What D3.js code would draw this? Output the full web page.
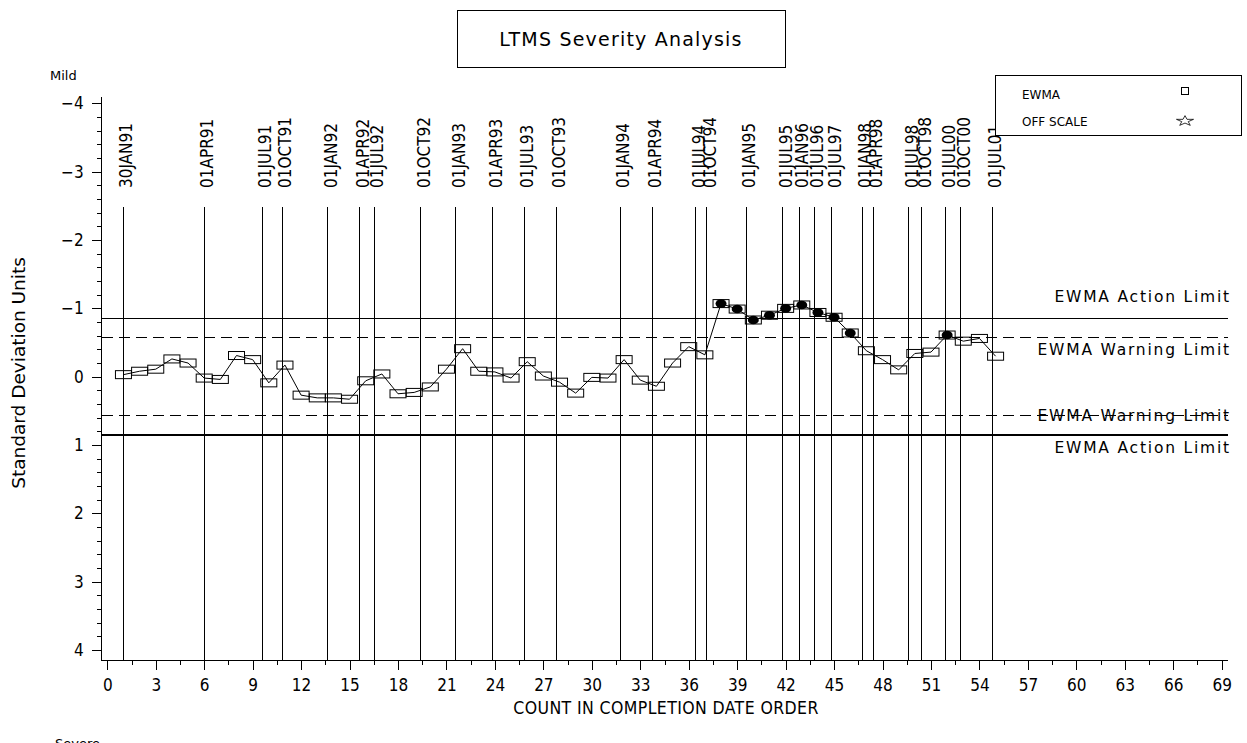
<!DOCTYPE html>
<html>
<head>
<meta charset="utf-8">
<script src="https://cdn.jsdelivr.net/npm/d3@7"></script>
<style>
  body { margin: 0; background: #fff; }
  svg { display: block; }
  .narrow { font-family: 'Liberation Sans Narrow', 'DejaVu Sans Condensed', sans-serif; }
  .wide { font-family: 'DejaVu Sans', sans-serif; }
</style>
</head>
<body>
<script>
// EWMA of severity, in standard deviation units, by test count (1..55)
const ewma = [
  -0.03, -0.08, -0.11, -0.26, -0.20, 0.02, 0.04, -0.31, -0.25, 0.09,
  -0.17, 0.27, 0.31, 0.31, 0.33, 0.06, -0.04, 0.25, 0.23, 0.15,
  -0.11, -0.41, -0.08, -0.07, 0.02, -0.22, -0.01, 0.08, 0.24, 0.01,
  0.02, -0.25, 0.05, 0.14, -0.20, -0.44, -0.32, -1.07, -0.99, -0.83,
  -0.90, -1.00, -1.05, -0.94, -0.87, -0.64, -0.38, -0.25, -0.10, -0.34,
  -0.36, -0.61, -0.52, -0.56, -0.30
];

// calendar markers, placed on the count axis
const dateLabels = [
  "30JAN91", "01APR91", "01JUL91", "01OCT91", "01JAN92", "01APR92", "01JUL92",
  "01OCT92", "01JAN93", "01APR93", "01JUL93", "01OCT93", "01JAN94", "01APR94",
  "01JUL94", "01OCT94", "01JAN95", "01JUL95", "01JAN96", "01JUL96", "01JUL97",
  "01JAN98", "01APR98", "01JUL98", "01OCT98", "01JUL00", "01OCT00", "01JUL01"
];
const datePositions = [
  1, 6, 9.58, 10.82, 13.65, 15.63, 16.52, 19.4, 21.57, 23.86, 25.82, 27.8,
  31.77, 33.75, 36.45, 37.11, 39.55, 41.82, 42.83, 43.78, 44.85, 46.73, 47.41,
  49.62, 50.43, 51.91, 52.84, 54.8
];

const actionLimit = 0.854;
const warningLimit = 0.575;
const limits = [
  { v: -actionLimit, label: "EWMA Action Limit", dash: null, pos: "above" },
  { v: -warningLimit, label: "EWMA Warning Limit", dash: "11,6", pos: "below" },
  { v: warningLimit, label: "EWMA Warning Limit", dash: "11,6", pos: "on" },
  { v: actionLimit, label: "EWMA Action Limit", dash: null, pos: "below" }
];

const xTicks = d3.range(0, 70, 3);
const yTicks = d3.range(-4, 5, 1);

const width = 1247, height = 743;

const x = d3.scaleLinear().domain([0, 69]).range([107.3, 1221.7]);
const y = d3.scaleLinear().domain([-4, 4]).range([103.4, 650]);

const svg = d3.select('body').append('svg')
  .attr('width', width)
  .attr('height', height);

const xLeft = x(-0.35), xRight = x(69.4);
const yTop = y(-4.1), yBottom = 660;

// title box
svg.append('rect')
  .attr('x', 457.5).attr('y', 10.5).attr('width', 328).attr('height', 57)
  .attr('fill', 'none').attr('stroke', '#000');
svg.append('text')
  .attr('class', 'wide')
  .attr('x', 621).attr('y', 46)
  .attr('text-anchor', 'middle')
  .attr('font-size', 19)
  .attr('letter-spacing', 1.2)
  .text('LTMS Severity Analysis');

// date reference lines
const dates = svg.append('g');
dates.selectAll('line')
  .data(datePositions)
  .join('line')
  .attr('x1', d => x(d)).attr('x2', d => x(d))
  .attr('y1', 207).attr('y2', yBottom)
  .attr('stroke', '#000')
  .attr('shape-rendering', 'crispEdges');

dates.selectAll('text')
  .data(datePositions)
  .join('text')
  .attr('class', 'narrow')
  .attr('font-size', 17)
  .attr('transform', d => `translate(${x(d) + 9},188) rotate(-90)`)
  .text((d, i) => dateLabels[i]);

// limit lines
const lim = svg.append('g');
lim.selectAll('line')
  .data(limits)
  .join('line')
  .attr('x1', xLeft).attr('x2', xRight)
  .attr('y1', d => y(d.v)).attr('y2', d => y(d.v))
  .attr('stroke', '#000')
  .attr('stroke-width', d => d.dash ? 1 : 1.4)
  .attr('stroke-dasharray', d => d.dash)
  .attr('shape-rendering', 'crispEdges');

lim.selectAll('text')
  .data(limits)
  .join('text')
  .attr('class', 'wide')
  .attr('font-size', 15.5)
  .attr('letter-spacing', 1.8)
  .attr('text-anchor', 'end')
  .attr('x', 1231)
  .attr('y', d => d.pos === 'above' ? y(d.v) - 16 : d.pos === 'on' ? y(d.v) + 5 : y(d.v) + 18)
  .text(d => d.label);

// axes
const gx = svg.append('g')
  .attr('transform', `translate(0,${yBottom})`)
  .call(d3.axisBottom(x).tickValues(xTicks).tickSize(10).tickPadding(9));
gx.select('.domain').remove();
gx.selectAll('text').attr('class', 'narrow').attr('font-size', 17).attr('fill', '#000');

const gxMinor = svg.append('g')
  .attr('transform', `translate(0,${yBottom})`)
  .call(d3.axisBottom(x).tickValues(d3.range(1.5, 70, 3)).tickSize(5).tickFormat(''));
gxMinor.select('.domain').remove();

const gy = svg.append('g')
  .attr('transform', `translate(${xLeft},0)`)
  .call(d3.axisLeft(y).tickValues(yTicks).tickSize(10).tickPadding(8));
gy.select('.domain').remove();
gy.selectAll('text').attr('class', 'narrow').attr('font-size', 17).attr('fill', '#000');

const gyMinor = svg.append('g')
  .attr('transform', `translate(${xLeft},0)`)
  .call(d3.axisLeft(y).tickValues(d3.range(-4, 4.01, 0.2).filter(v => Math.abs(v - Math.round(v)) > 0.01)).tickSize(5).tickFormat(''));
gyMinor.select('.domain').remove();

svg.selectAll('.tick line').attr('shape-rendering', 'crispEdges');

svg.append('path')
  .attr('d', `M${xLeft},${yTop}V${yBottom}H${xRight}`)
  .attr('fill', 'none').attr('stroke', '#000')
  .attr('shape-rendering', 'crispEdges');

// axis titles
svg.append('text')
  .attr('class', 'wide')
  .attr('font-size', 18.5)
  .attr('text-anchor', 'middle')
  .attr('transform', `translate(25,373) rotate(-90)`)
  .text('Standard Deviation Units');

svg.append('text')
  .attr('class', 'narrow')
  .attr('font-size', 17.5)
  .attr('text-anchor', 'middle')
  .attr('x', 666).attr('y', 714)
  .attr('letter-spacing', 0.4)
  .text('COUNT IN COMPLETION DATE ORDER');

svg.append('text')
  .attr('class', 'wide')
  .attr('font-size', 13)
  .attr('x', 50).attr('y', 80)
  .text('Mild');

svg.append('text')
  .attr('class', 'wide')
  .attr('font-size', 13)
  .attr('x', 55).attr('y', 748)
  .text('Severe');

// EWMA series
const pts = ewma.map((v, i) => ({ n: i + 1, v }));

svg.append('path')
  .datum(pts)
  .attr('fill', 'none')
  .attr('stroke', '#000')
  .attr('stroke-width', 1)
  .attr('d', d3.line().x(d => x(d.n)).y(d => y(d.v)));

const marks = svg.append('g')
  .selectAll('g')
  .data(pts)
  .join('g')
  .attr('transform', d => `translate(${x(d.n)},${y(d.v)})`);

marks.append('rect')
  .attr('x', -8).attr('y', -4)
  .attr('width', 16).attr('height', 8)
  .attr('fill', 'none')
  .attr('stroke', '#000');

marks.filter(d => Math.abs(d.v) > warningLimit)
  .append('ellipse')
  .attr('rx', 5.5).attr('ry', 4.3)
  .attr('fill', '#000');

// legend
svg.append('rect')
  .attr('x', 995.5).attr('y', 75.5).attr('width', 246).attr('height', 60)
  .attr('fill', '#fff').attr('stroke', '#000');

svg.append('text')
  .attr('class', 'wide')
  .attr('font-size', 12)
  .attr('x', 1022).attr('y', 99)
  .text('EWMA');
svg.append('text')
  .attr('class', 'wide')
  .attr('font-size', 12)
  .attr('x', 1022).attr('y', 126)
  .text('OFF SCALE');

svg.append('rect')
  .attr('x', 1181.5).attr('y', 87.5).attr('width', 7).attr('height', 7)
  .attr('fill', 'none').attr('stroke', '#000');

svg.append('path')
  .attr('d', d3.symbol(d3.symbolStar, 90)())
  .attr('transform', 'translate(1185,121) scale(1,0.6)')
  .attr('fill', 'none').attr('stroke', '#000').attr('stroke-width', 1);
</script>
</body>
</html>
